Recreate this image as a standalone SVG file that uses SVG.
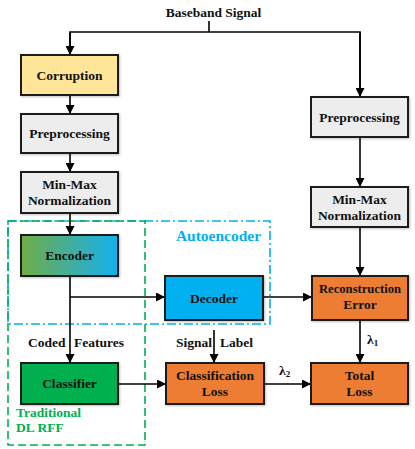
<svg xmlns="http://www.w3.org/2000/svg" width="415" height="449" viewBox="0 0 415 449">
<defs>
<marker id="arr" markerWidth="9" markerHeight="9" refX="9" refY="4.5" orient="auto" markerUnits="userSpaceOnUse">
<path d="M0,0 L9,4.5 L0,9 z" fill="#000"/>
</marker>
<linearGradient id="encg" x1="0" y1="0" x2="1" y2="0">
<stop offset="0" stop-color="#70AD47"/>
<stop offset="1" stop-color="#14B0EE"/>
</linearGradient>
<filter id="sh" x="-10%" y="-10%" width="130%" height="130%">
<feDropShadow dx="1" dy="1" stdDeviation="0.8" flood-color="#000" flood-opacity="0.25"/>
</filter>
</defs>
<style>
text{font-family:"Liberation Serif","Times New Roman",serif;font-weight:bold;font-size:13.5px;fill:#111}
.box{stroke:#1a1a1a;stroke-width:2;filter:url(#sh)}
.gray{fill:#EDEDED}
.org{fill:#ED7D31}
.c{text-anchor:middle}
.conn line,.conn polyline{stroke:#000;stroke-width:1.6;fill:none}
.a{marker-end:url(#arr)}
</style>
<rect width="415" height="449" fill="#fff"/>

<g id="regions">
<rect id="autoencoder-region" x="8" y="221" width="262" height="103" fill="none" stroke="#00B0F0" stroke-width="1.6" stroke-dasharray="9,3,2,3"/>
<rect id="traditional-region" x="8" y="221" width="137" height="224" fill="none" stroke="#00B050" stroke-width="1.6" stroke-dasharray="8,4"/>
<text x="218.5" y="241" class="c" style="fill:#00B0F0;font-size:15.5px">Autoencoder</text>
<text x="16" y="417" style="fill:#00B050">Traditional</text>
<text x="16" y="432" style="fill:#00B050">DL RFF</text>
</g>

<g class="conn">
<line x1="209" y1="21" x2="209" y2="32"/>
<polyline points="70,55 70,32 360,32 360,97" class="a" style="marker-end:none"/>
<line x1="70" y1="32" x2="70" y2="55" class="a"/>
<line x1="360" y1="32" x2="360" y2="97" class="a"/>
<line x1="70" y1="95" x2="70" y2="114" class="a"/>
<line x1="70" y1="153" x2="70" y2="172" class="a"/>
<line x1="70" y1="213" x2="70" y2="235" class="a"/>
<line x1="70" y1="276" x2="70" y2="363" class="a"/>
<polyline points="70,297 165,297" class="a"/>
<line x1="263" y1="297" x2="312" y2="297" class="a"/>
<line x1="360" y1="137" x2="360" y2="187" class="a"/>
<line x1="360" y1="227" x2="360" y2="276" class="a"/>
<line x1="360" y1="320" x2="360" y2="363" class="a"/>
<line x1="214" y1="330" x2="214" y2="363" class="a"/>
<line x1="118" y1="384" x2="166" y2="384" class="a"/>
<line x1="264" y1="384" x2="311" y2="384" class="a"/>
</g>

<text x="213.5" y="17" class="c">Baseband Signal</text>
<text y="347"><tspan x="28">Coded</tspan><tspan x="74">Features</tspan></text>
<text y="347"><tspan x="176">Signal</tspan><tspan x="220">Label</tspan></text>
<text x="367" y="344">λ<tspan font-size="9" dy="2">1</tspan></text>
<text x="279" y="375">λ<tspan font-size="9" dy="2">2</tspan></text>

<g id="corruption">
<rect class="box" x="21" y="55" width="97" height="40" fill="#FFE699"/>
<text x="69.5" y="79.5" class="c">Corruption</text>
</g>
<g id="preprocessing-left">
<rect class="box gray" x="21" y="114" width="97" height="39"/>
<text x="69.5" y="138" class="c">Preprocessing</text>
</g>
<g id="minmax-left">
<rect class="box gray" x="21" y="172" width="97" height="41"/>
<text x="69.5" y="189" class="c">Min-Max</text>
<text x="69.5" y="204.5" class="c">Normalization</text>
</g>
<g id="encoder">
<rect class="box" x="21" y="235" width="97" height="41" fill="url(#encg)"/>
<text x="69.5" y="260" class="c">Encoder</text>
</g>
<g id="decoder">
<rect class="box" x="165" y="276" width="98" height="44" fill="#00B0F0"/>
<text x="214" y="302.5" class="c">Decoder</text>
</g>
<g id="preprocessing-right">
<rect class="box gray" x="311" y="97" width="97" height="40"/>
<text x="359.5" y="121.5" class="c">Preprocessing</text>
</g>
<g id="minmax-right">
<rect class="box gray" x="311" y="187" width="97" height="40"/>
<text x="359.5" y="204" class="c">Min-Max</text>
<text x="359.5" y="219.5" class="c">Normalization</text>
</g>
<g id="reconstruction-error">
<rect class="box org" x="312" y="276" width="96" height="44"/>
<text x="360" y="293" class="c" textLength="82" lengthAdjust="spacingAndGlyphs">Reconstruction</text>
<text x="360" y="308.5" class="c">Error</text>
</g>
<g id="classifier">
<rect class="box" x="21" y="363" width="97" height="41" fill="#00B050"/>
<text x="69.5" y="388" class="c">Classifier</text>
</g>
<g id="classification-loss">
<rect class="box org" x="166" y="363" width="98" height="41"/>
<text x="215" y="380" class="c">Classification</text>
<text x="215" y="395.5" class="c">Loss</text>
</g>
<g id="total-loss">
<rect class="box org" x="311" y="363" width="97" height="41"/>
<text x="359.5" y="380" class="c">Total</text>
<text x="359.5" y="395.5" class="c">Loss</text>
</g>
</svg>
